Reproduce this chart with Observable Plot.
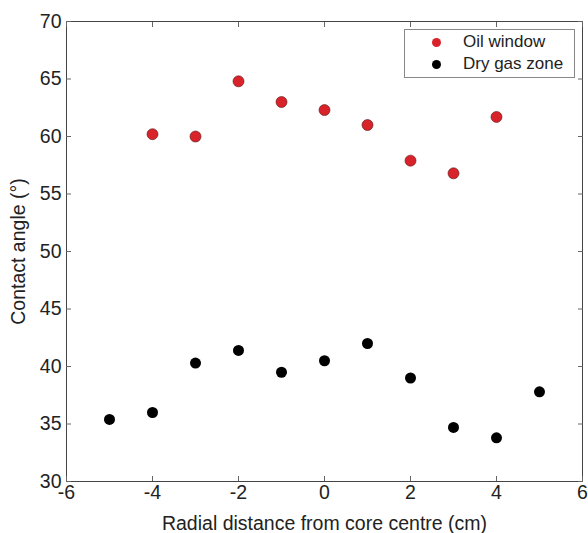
<!DOCTYPE html>
<html>
<head>
<meta charset="utf-8">
<script src="https://cdn.jsdelivr.net/npm/d3@7"></script>
<script src="https://cdn.jsdelivr.net/npm/@observablehq/plot@0.6"></script>
<style>
  html, body { margin: 0; padding: 0; background: #fff; }
  #wrap { position: relative; width: 588px; height: 533px; font-family: "Liberation Sans", Arial, sans-serif; }
  #legend { position: absolute; left: 404px; top: 29px; width: 169px; height: 47px; border: 1px solid #888; background: #fff; font-size: 17px; color: #222; }
  #legend .row { position: absolute; left: 0; display: flex; align-items: center; }
  #legend .sw { display: inline-block; width: 9px; height: 9px; border-radius: 50%; margin-left: 27px; margin-right: 22px; }
</style>
</head>
<body>
<div id="wrap"></div>
<script>
const xOil = [-4, -3, -2, -1, 0, 1, 2, 3, 4];
const yOil = [60.2, 60.0, 64.8, 63.0, 62.3, 61.0, 57.9, 56.8, 61.7];
const xGas = [-5, -4, -3, -2, -1, 0, 1, 2, 3, 4, 5];
const yGas = [35.4, 36.0, 40.3, 41.4, 39.5, 40.5, 42.0, 39.0, 34.7, 33.8, 37.8];
const xTicks = [-6, -4, -2, 0, 2, 4, 6];
const yTicks = [30, 35, 40, 45, 50, 55, 60, 65, 70];
const seriesNames = ["Oil window", "Dry gas zone"];
const seriesColors = ["#d8232a", "#000000"];

const oil = xOil.map((x, i) => ({x, y: yOil[i]}));
const gas = xGas.map((x, i) => ({x, y: yGas[i]}));
const fmt = d => String(d);

const chart = Plot.plot({
  width: 588,
  height: 533,
  marginLeft: 66,
  marginRight: 6,
  marginTop: 21,
  marginBottom: 52,
  style: {fontFamily: "Liberation Sans, Arial, sans-serif", fontSize: "19.5px", color: "#222", background: "#fff"},
  x: {domain: [-6, 6]},
  y: {domain: [30, 70]},
  marks: [
    Plot.frame({stroke: "#444", strokeWidth: 1}),
    Plot.axisX({ticks: xTicks, tickFormat: fmt, tickSize: -5, tickPadding: 9, stroke: "#666", label: "Radial distance from core centre (cm)", labelArrow: false, labelAnchor: "center", labelOffset: 48, fill: "#222"}),
    Plot.axisX({anchor: "top", ticks: xTicks, tickSize: -5, tickFormat: () => "", label: null, stroke: "#666"}),
    Plot.axisY({ticks: yTicks, tickFormat: fmt, tickSize: -5, tickPadding: 10, stroke: "#666", label: "Contact angle (°)", labelArrow: false, labelAnchor: "center", labelOffset: 55, fill: "#222"}),
    Plot.axisY({anchor: "right", ticks: yTicks, tickSize: -5, tickFormat: () => "", label: null, stroke: "#666"}),
    Plot.dot(oil, {x: "x", y: "y", r: 5.5, fill: seriesColors[0], stroke: "#5a1010", strokeWidth: 0.6}),
    Plot.dot(gas, {x: "x", y: "y", r: 5.5, fill: seriesColors[1]})
  ]
});
const wrap = document.getElementById("wrap");
wrap.appendChild(chart);

const legend = document.createElement("div");
legend.id = "legend";
seriesNames.forEach((name, i) => {
  const row = document.createElement("div");
  row.className = "row";
  row.style.top = (2 + i * 22) + "px";
  const sw = document.createElement("span");
  sw.className = "sw";
  sw.style.background = seriesColors[i];
  const t = document.createElement("span");
  t.textContent = name;
  row.appendChild(sw);
  row.appendChild(t);
  legend.appendChild(row);
});
wrap.appendChild(legend);
</script>
</body>
</html>
